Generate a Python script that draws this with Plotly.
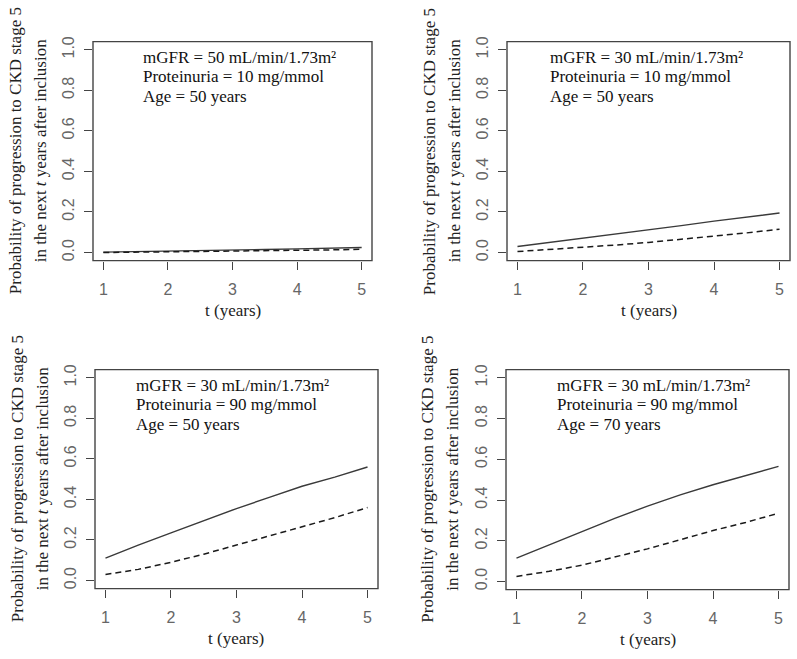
import plotly.graph_objects as go

t = [1, 1.5, 2, 2.5, 3, 3.5, 4, 4.5, 5]

# Panel 1: mGFR 50, proteinuria 10, age 50
p1_solid = [0.002, 0.004, 0.006, 0.009, 0.012, 0.015, 0.018, 0.021, 0.025]
p1_dash = [0.000, 0.0015, 0.003, 0.005, 0.007, 0.009, 0.011, 0.013, 0.016]
# Panel 2: mGFR 30, proteinuria 10, age 50
p2_solid = [0.03, 0.05, 0.07, 0.09, 0.11, 0.133, 0.155, 0.175, 0.195]
p2_dash = [0.005, 0.015, 0.025, 0.037, 0.05, 0.065, 0.08, 0.097, 0.115]
# Panel 3: mGFR 30, proteinuria 90, age 50
p3_solid = [0.11, 0.175, 0.235, 0.295, 0.355, 0.41, 0.465, 0.51, 0.56]
p3_dash = [0.03, 0.055, 0.09, 0.13, 0.175, 0.22, 0.265, 0.31, 0.36]
# Panel 4: mGFR 30, proteinuria 90, age 70
p4_solid = [0.115, 0.18, 0.245, 0.31, 0.37, 0.425, 0.475, 0.52, 0.565]
p4_dash = [0.025, 0.05, 0.08, 0.12, 0.16, 0.205, 0.25, 0.29, 0.335]

labels = [
    ["mGFR = 50 mL/min/1.73m²", "Proteinuria = 10 mg/mmol", "Age = 50 years"],
    ["mGFR = 30 mL/min/1.73m²", "Proteinuria = 10 mg/mmol", "Age = 50 years"],
    ["mGFR = 30 mL/min/1.73m²", "Proteinuria = 90 mg/mmol", "Age = 50 years"],
    ["mGFR = 30 mL/min/1.73m²", "Proteinuria = 90 mg/mmol", "Age = 70 years"],
]
label_x = [1.58, 1.46, 1.44, 1.59]
label_y = [0.962, 0.869, 0.771]

x_ticks = [1, 2, 3, 4, 5]
y_ticks = [0.0, 0.2, 0.4, 0.6, 0.8, 1.0]
x_title = "t (years)"
y_title_1 = "Probability of progression to CKD stage 5"
y_title_2 = "in the next <i>t</i> years after inclusion"

W, H = 797, 659
# plot boxes in pixels (left, right, top, bottom)
boxes = [(93, 372, 37, 258), (507, 790, 37, 258), (95, 378, 368, 589), (506, 789, 368, 590)]

solids = [p1_solid, p2_solid, p3_solid, p4_solid]
dashes = [p1_dash, p2_dash, p3_dash, p4_dash]

fig = go.Figure()
annotations = []
shapes = []
serif = "Liberation Serif, Times New Roman, serif"
sans = "Liberation Sans, Arial, sans-serif"

for i in range(4):
    xa = "x" if i == 0 else f"x{i+1}"
    ya = "y" if i == 0 else f"y{i+1}"
    fig.add_trace(go.Scatter(x=t, y=solids[i], mode="lines", xaxis=xa, yaxis=ya,
                             line=dict(color="#3a3a3a", width=1.4), showlegend=False))
    fig.add_trace(go.Scatter(x=t, y=dashes[i], mode="lines", xaxis=xa, yaxis=ya,
                             line=dict(color="#1a1a1a", width=1.5, dash="6px,4px"), showlegend=False))
    l, r, tp, b = boxes[i]
    axis_common = dict(showline=False, ticks="outside", ticklen=8, tickcolor="#444", tickwidth=1.3,
                       showgrid=False, zeroline=False,
                       tickfont=dict(family=sans, size=16, color="#666"))
    xkey = "xaxis" if i == 0 else f"xaxis{i+1}"
    ykey = "yaxis" if i == 0 else f"yaxis{i+1}"
    fig.update_layout(**{
        xkey: dict(domain=[l / W, r / W], anchor=ya, range=[0.84, 5.16],
                   tickvals=x_ticks, ticklabelstandoff=6, **axis_common),
        ykey: dict(domain=[1 - b / H, 1 - tp / H], anchor=xa, range=[-0.04, 1.04],
                   tickvals=y_ticks, tickformat=".1f", tickangle=-90, ticklabelstandoff=4,
                   **axis_common),
    })
    shapes.append(dict(type="rect", xref=f"{xa} domain", yref=f"{ya} domain",
                       x0=0, x1=1, y0=0, y1=1, line=dict(color="#444", width=1.4),
                       fillcolor="rgba(0,0,0,0)", layer="above"))
    for j, txt in enumerate(labels[i]):
        annotations.append(dict(x=label_x[i], y=label_y[j], xref=xa, yref=ya, text=txt,
                                showarrow=False, xanchor="left", yanchor="middle",
                                font=dict(family=serif, size=17, color="#111")))
    cx = (l + r) / 2 / W
    annotations.append(dict(x=cx, y=1 - (b + 50) / H, xref="paper", yref="paper", text=x_title,
                            showarrow=False, xanchor="center", yanchor="middle",
                            font=dict(family=serif, size=17, color="#222")))
    cy = 1 - (tp + b) / 2 / H
    annotations.append(dict(x=(l - 78) / W, y=cy, xref="paper", yref="paper", text=y_title_1,
                            showarrow=False, textangle=-90, xanchor="center", yanchor="middle",
                            font=dict(family=serif, size=17, color="#222")))
    annotations.append(dict(x=(l - 53) / W, y=cy, xref="paper", yref="paper", text=y_title_2,
                            showarrow=False, textangle=-90, xanchor="center", yanchor="middle",
                            font=dict(family=serif, size=17, color="#222")))

fig.update_layout(width=W, height=H, margin=dict(l=0, r=0, t=0, b=0),
                  paper_bgcolor="white", plot_bgcolor="white",
                  annotations=annotations, shapes=shapes)

fig.write_html("out.html", config={"displayModeBar": False},
               post_script="document.body.style.margin='0';document.body.style.overflow='hidden';")
